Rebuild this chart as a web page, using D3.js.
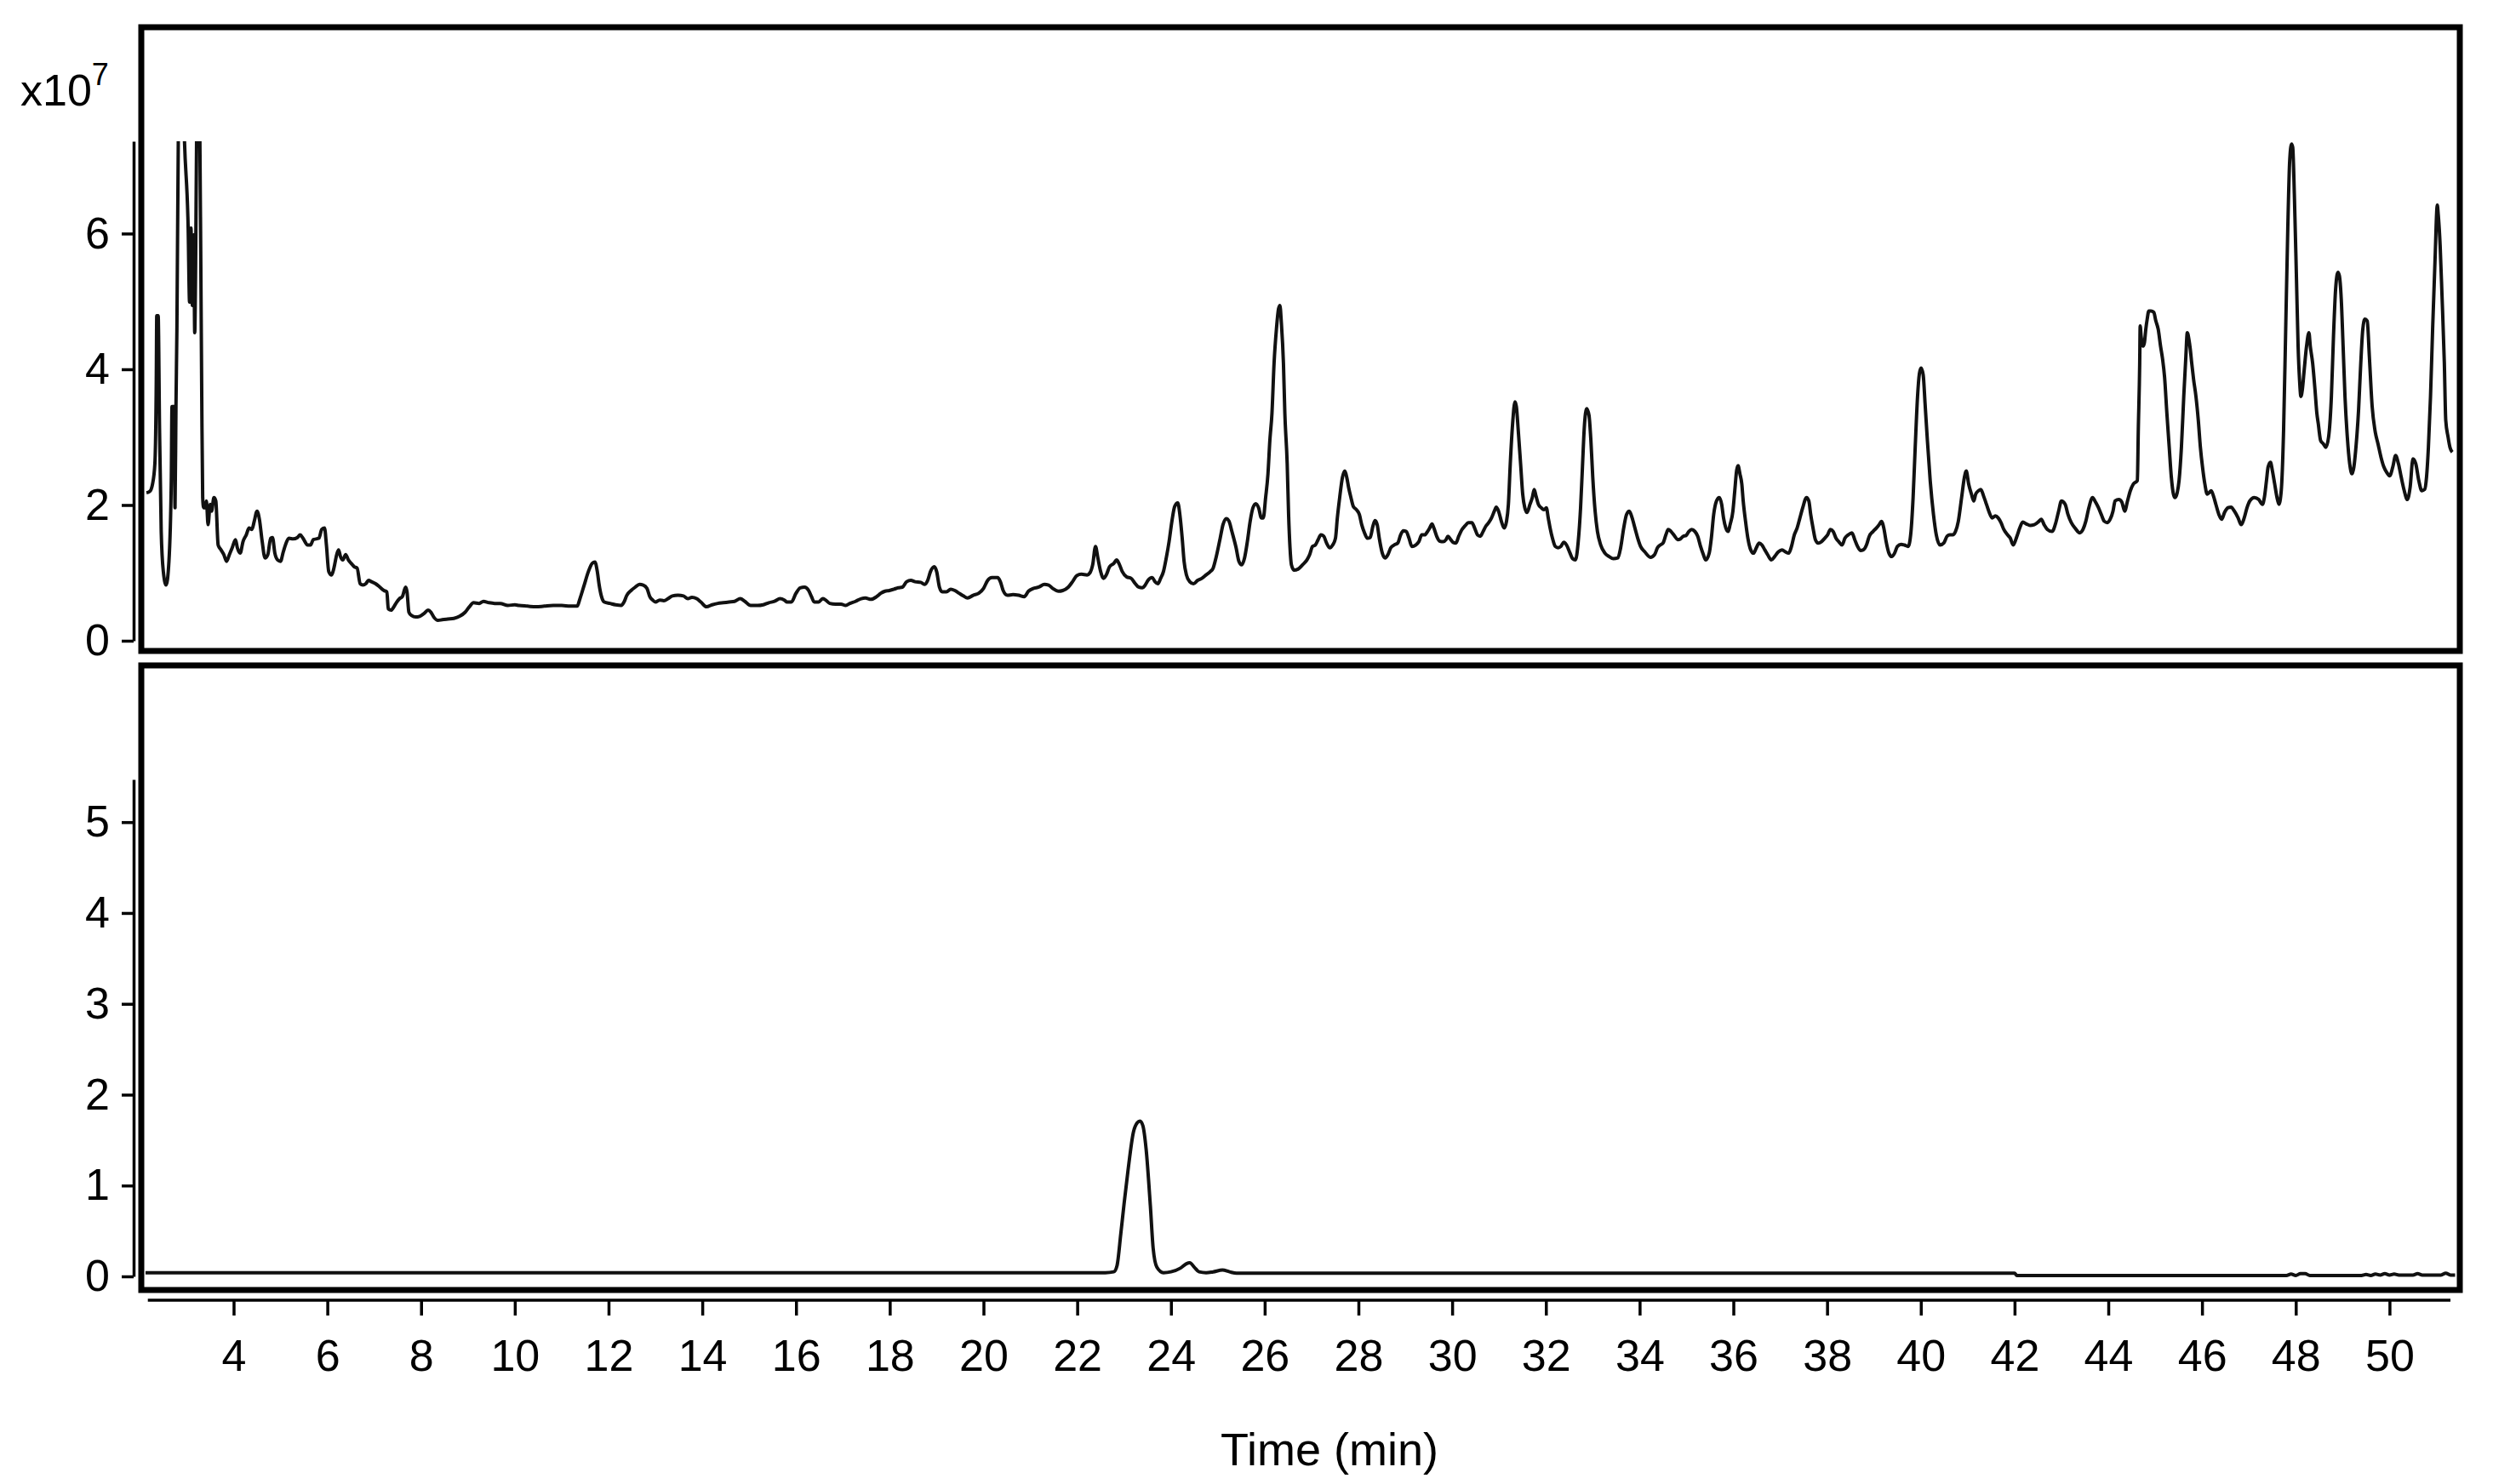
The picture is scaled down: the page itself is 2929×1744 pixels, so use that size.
<!DOCTYPE html>
<html>
<head>
<meta charset="utf-8">
<script src="https://cdn.jsdelivr.net/npm/d3@7"></script>
<style>
  body { margin: 0; background: #fff; }
  text { font-family: "Liberation Sans", Arial, sans-serif; fill: #000; }
</style>
</head>
<body>
<svg id="chart"></svg>
<script>
// Total ion chromatogram (upper trace), [time (min), intensity x10^7]
const topTrace = [
  [2.14,2.18],[2.21,2.20],[2.27,2.31],[2.32,2.61],[2.35,3.85],[2.36,4.79],[2.39,4.79],[2.42,3.10],
  [2.455,1.61],[2.50,1.02],[2.56,0.82],[2.62,1.17],[2.67,2.36],[2.685,3.45],[2.73,3.45],[2.75,1.96],
  [2.77,3.45],[2.79,4.59],[2.82,7.40],[2.86,8.50],[2.91,8.50],[2.95,7.40],[3.03,6.08],[3.06,4.99],
  [3.09,6.08],[3.12,4.94],[3.15,5.98],[3.17,4.54],[3.19,5.58],[3.21,7.40],[3.25,8.50],[3.28,7.40],
  [3.30,5.58],[3.32,3.60],[3.34,2.11],[3.36,1.96],[3.39,1.96],[3.42,2.06],[3.455,1.71],[3.50,2.01],
  [3.53,1.91],[3.58,2.11],[3.62,2.06],[3.67,1.41],[3.73,1.34],[3.79,1.27],[3.85,1.17],[3.91,1.27],
  [3.97,1.37],[4.04,1.49],[4.08,1.37],[4.14,1.29],[4.20,1.46],[4.27,1.56],[4.33,1.66],[4.39,1.64],
  [4.44,1.76],[4.50,1.91],[4.55,1.79],[4.61,1.46],[4.67,1.22],[4.73,1.27],[4.79,1.51],[4.83,1.52],
  [4.88,1.29],[4.94,1.19],[5.00,1.17],[5.06,1.31],[5.12,1.44],[5.18,1.51],[5.27,1.50],[5.36,1.52],
  [5.42,1.56],[5.48,1.51],[5.58,1.41],[5.64,1.41],[5.70,1.49],[5.82,1.51],[5.88,1.64],[5.94,1.66],
  [5.98,1.41],[6.03,1.02],[6.09,0.97],[6.14,1.07],[6.20,1.27],[6.24,1.34],[6.28,1.24],[6.33,1.19],
  [6.39,1.27],[6.45,1.19],[6.51,1.14],[6.575,1.09],[6.635,1.07],[6.70,0.84],[6.76,0.82],[6.82,0.84],
  [6.88,0.89],[6.94,0.87],[7.03,0.84],[7.12,0.79],[7.21,0.74],[7.27,0.72],[7.30,0.47],[7.36,0.45],
  [7.42,0.50],[7.48,0.57],[7.54,0.62],[7.60,0.65],[7.67,0.79],[7.70,0.72],[7.74,0.42],[7.80,0.37],
  [7.88,0.35],[7.97,0.36],[8.06,0.40],[8.15,0.45],[8.21,0.42],[8.27,0.35],[8.36,0.30],[8.45,0.31],
  [8.57,0.32],[8.70,0.33],[8.82,0.36],[8.94,0.42],[9.03,0.50],[9.12,0.56],[9.24,0.55],[9.33,0.58],
  [9.45,0.56],[9.57,0.55],[9.69,0.55],[9.85,0.52],[10.0,0.53],[10.09,0.52],[10.27,0.51],[10.45,0.50],
  [10.63,0.51],[10.82,0.52],[11.00,0.52],[11.18,0.51],[11.33,0.51],[11.39,0.62],[11.48,0.82],[11.57,1.02],
  [11.65,1.14],[11.71,1.16],[11.76,1.02],[11.80,0.82],[11.85,0.65],[11.91,0.57],[12.03,0.55],[12.15,0.53],
  [12.27,0.52],[12.33,0.57],[12.39,0.67],[12.48,0.74],[12.57,0.79],[12.66,0.83],[12.74,0.82],[12.82,0.77],
  [12.88,0.65],[12.94,0.60],[13.00,0.57],[13.09,0.60],[13.18,0.59],[13.27,0.62],[13.36,0.66],[13.48,0.67],
  [13.60,0.66],[13.69,0.62],[13.78,0.64],[13.88,0.62],[13.97,0.57],[14.09,0.50],[14.21,0.53],[14.33,0.55],
  [14.45,0.56],[14.57,0.57],[14.69,0.58],[14.81,0.62],[14.91,0.58],[15.03,0.52],[15.18,0.52],[15.30,0.53],
  [15.42,0.56],[15.54,0.58],[15.66,0.62],[15.75,0.60],[15.81,0.57],[15.90,0.57],[16.00,0.70],[16.09,0.78],
  [16.18,0.79],[16.27,0.74],[16.33,0.65],[16.39,0.57],[16.48,0.57],[16.57,0.62],[16.63,0.60],[16.72,0.55],
  [16.84,0.54],[16.96,0.54],[17.06,0.52],[17.15,0.55],[17.27,0.58],[17.39,0.62],[17.48,0.63],[17.60,0.61],
  [17.72,0.65],[17.81,0.70],[17.90,0.73],[17.99,0.74],[18.09,0.76],[18.18,0.78],[18.27,0.79],[18.36,0.87],
  [18.45,0.89],[18.54,0.87],[18.66,0.86],[18.75,0.83],[18.81,0.89],[18.87,1.02],[18.95,1.09],[19.00,1.02],
  [19.06,0.79],[19.12,0.72],[19.21,0.72],[19.30,0.76],[19.39,0.74],[19.48,0.70],[19.57,0.66],[19.66,0.63],
  [19.78,0.67],[19.90,0.70],[20.00,0.77],[20.09,0.89],[20.18,0.93],[20.30,0.93],[20.36,0.87],[20.42,0.74],
  [20.51,0.67],[20.63,0.68],[20.75,0.67],[20.87,0.65],[20.96,0.73],[21.06,0.77],[21.18,0.79],[21.30,0.83],
  [21.39,0.82],[21.48,0.77],[21.60,0.73],[21.69,0.74],[21.81,0.79],[21.90,0.87],[21.99,0.96],[22.09,0.98],
  [22.21,0.97],[22.27,1.00],[22.33,1.12],[22.39,1.39],[22.44,1.22],[22.50,1.02],[22.56,0.92],[22.62,0.97],
  [22.69,1.09],[22.78,1.14],[22.84,1.19],[22.89,1.14],[22.96,1.02],[23.055,0.94],[23.15,0.92],[23.24,0.84],
  [23.31,0.79],[23.39,0.78],[23.45,0.82],[23.51,0.89],[23.60,0.93],[23.66,0.87],[23.72,0.84],[23.78,0.92],
  [23.84,1.02],[23.90,1.22],[23.96,1.46],[24.02,1.76],[24.08,1.98],[24.145,2.03],[24.19,1.86],[24.24,1.51],
  [24.28,1.17],[24.33,0.97],[24.40,0.87],[24.48,0.84],[24.57,0.89],[24.66,0.92],[24.75,0.97],[24.84,1.02],
  [24.90,1.07],[24.96,1.22],[25.05,1.51],[25.11,1.71],[25.18,1.80],[25.24,1.76],[25.30,1.61],[25.39,1.37],
  [25.45,1.17],[25.51,1.12],[25.57,1.22],[25.63,1.46],[25.69,1.76],[25.75,1.96],[25.81,2.02],[25.87,1.96],
  [25.93,1.81],[25.97,1.81],[26.02,2.11],[26.07,2.46],[26.11,2.95],[26.155,3.35],[26.20,4.09],[26.25,4.59],
  [26.295,4.89],[26.325,4.94],[26.355,4.69],[26.40,4.09],[26.43,3.35],[26.48,2.61],[26.51,1.86],[26.54,1.37],
  [26.57,1.12],[26.63,1.04],[26.72,1.06],[26.81,1.12],[26.90,1.19],[26.96,1.27],[27.02,1.39],[27.08,1.41],
  [27.14,1.49],[27.20,1.56],[27.26,1.54],[27.32,1.44],[27.39,1.37],[27.45,1.41],[27.51,1.51],[27.55,1.81],
  [27.60,2.11],[27.66,2.41],[27.71,2.50],[27.75,2.41],[27.79,2.26],[27.84,2.11],[27.89,1.98],[27.96,1.93],
  [28.02,1.86],[28.07,1.71],[28.13,1.59],[28.19,1.51],[28.25,1.52],[28.31,1.69],[28.355,1.77],[28.40,1.71],
  [28.445,1.51],[28.51,1.29],[28.57,1.22],[28.63,1.27],[28.69,1.37],[28.76,1.41],[28.84,1.44],[28.90,1.56],
  [28.96,1.62],[29.02,1.61],[29.08,1.51],[29.14,1.39],[29.22,1.41],[29.29,1.46],[29.35,1.56],[29.415,1.56],
  [29.475,1.61],[29.52,1.66],[29.57,1.72],[29.61,1.66],[29.67,1.54],[29.73,1.47],[29.81,1.46],[29.87,1.49],
  [29.91,1.54],[29.97,1.49],[30.02,1.45],[30.08,1.44],[30.14,1.54],[30.21,1.64],[30.27,1.69],[30.35,1.74],
  [30.42,1.74],[30.48,1.66],[30.54,1.56],[30.60,1.54],[30.66,1.61],[30.72,1.69],[30.78,1.74],[30.84,1.81],
  [30.90,1.91],[30.94,1.97],[30.99,1.91],[31.05,1.76],[31.11,1.66],[31.16,1.76],[31.20,2.01],[31.24,2.61],
  [31.29,3.20],[31.34,3.52],[31.37,3.45],[31.41,3.10],[31.46,2.61],[31.505,2.16],[31.55,1.96],[31.60,1.89],
  [31.66,2.01],[31.71,2.11],[31.75,2.23],[31.79,2.13],[31.84,2.01],[31.90,1.96],[31.96,1.93],[32.01,1.96],
  [32.05,1.81],[32.09,1.66],[32.14,1.51],[32.20,1.39],[32.26,1.37],[32.32,1.39],[32.38,1.45],[32.44,1.41],
  [32.51,1.30],[32.57,1.21],[32.63,1.19],[32.69,1.46],[32.74,1.96],[32.78,2.56],[32.82,3.15],[32.87,3.42],
  [32.92,3.32],[32.96,2.95],[33.00,2.41],[33.05,1.91],[33.10,1.61],[33.17,1.41],[33.26,1.29],[33.35,1.24],
  [33.44,1.21],[33.535,1.22],[33.595,1.37],[33.66,1.66],[33.72,1.86],[33.78,1.91],[33.84,1.81],[33.90,1.66],
  [33.96,1.51],[34.02,1.39],[34.11,1.31],[34.23,1.23],[34.32,1.27],[34.38,1.37],[34.44,1.41],[34.50,1.44],
  [34.56,1.56],[34.61,1.64],[34.67,1.61],[34.75,1.54],[34.81,1.49],[34.87,1.50],[34.93,1.54],[34.99,1.55],
  [35.05,1.61],[35.11,1.64],[35.18,1.61],[35.24,1.54],[35.30,1.39],[35.36,1.27],[35.41,1.19],[35.485,1.29],
  [35.53,1.51],[35.58,1.86],[35.64,2.06],[35.70,2.11],[35.75,2.01],[35.79,1.81],[35.84,1.66],[35.89,1.61],
  [35.93,1.71],[35.99,1.91],[36.03,2.21],[36.07,2.51],[36.10,2.58],[36.14,2.46],[36.18,2.31],[36.21,2.06],
  [36.26,1.76],[36.31,1.51],[36.37,1.34],[36.43,1.29],[36.49,1.37],[36.55,1.44],[36.61,1.41],[36.67,1.34],
  [36.73,1.27],[36.81,1.19],[36.88,1.24],[36.96,1.31],[37.04,1.34],[37.11,1.31],[37.18,1.29],[37.24,1.39],
  [37.30,1.56],[37.36,1.66],[37.42,1.81],[37.48,1.96],[37.56,2.11],[37.61,2.06],[37.65,1.86],[37.70,1.66],
  [37.75,1.49],[37.81,1.44],[37.88,1.46],[37.95,1.51],[38.01,1.56],[38.07,1.64],[38.13,1.61],[38.19,1.51],
  [38.25,1.46],[38.32,1.41],[38.38,1.51],[38.45,1.56],[38.53,1.59],[38.59,1.49],[38.65,1.39],[38.71,1.33],
  [38.775,1.34],[38.84,1.41],[38.90,1.54],[38.98,1.61],[39.05,1.66],[39.11,1.71],[39.16,1.76],[39.21,1.66],
  [39.26,1.46],[39.32,1.29],[39.38,1.24],[39.44,1.29],[39.50,1.39],[39.58,1.42],[39.65,1.41],[39.73,1.39],
  [39.79,1.61],[39.835,2.11],[39.88,2.85],[39.93,3.60],[39.97,3.94],[40.005,4.02],[40.05,3.92],[40.09,3.50],
  [40.14,2.95],[40.20,2.36],[40.27,1.86],[40.33,1.56],[40.41,1.41],[40.49,1.44],[40.56,1.54],[40.62,1.56],
  [40.68,1.56],[40.74,1.61],[40.80,1.76],[40.87,2.11],[40.93,2.41],[40.97,2.50],[41.02,2.31],[41.08,2.16],
  [41.13,2.06],[41.17,2.16],[41.23,2.21],[41.28,2.23],[41.34,2.13],[41.40,2.01],[41.46,1.89],[41.52,1.81],
  [41.59,1.84],[41.65,1.81],[41.71,1.74],[41.77,1.64],[41.85,1.56],[41.91,1.51],[41.97,1.41],[42.05,1.54],
  [42.11,1.66],[42.175,1.75],[42.255,1.72],[42.33,1.70],[42.42,1.71],[42.52,1.76],[42.57,1.79],[42.63,1.71],
  [42.70,1.64],[42.80,1.61],[42.88,1.74],[42.94,1.91],[43.00,2.06],[43.08,2.01],[43.14,1.86],[43.21,1.74],
  [43.29,1.66],[43.39,1.59],[43.46,1.64],[43.52,1.76],[43.585,1.96],[43.665,2.11],[43.73,2.04],[43.79,1.96],
  [43.85,1.86],[43.915,1.76],[43.98,1.74],[44.04,1.79],[44.10,1.91],[44.145,2.06],[44.225,2.08],[44.29,2.04],
  [44.35,1.91],[44.41,2.06],[44.47,2.21],[44.535,2.31],[44.62,2.36],[44.64,3.10],[44.67,4.09],[44.68,4.64],
  [44.70,4.49],[44.74,4.34],[44.77,4.39],[44.80,4.59],[44.83,4.74],[44.865,4.86],[44.91,4.86],[44.97,4.84],
  [45.015,4.71],[45.065,4.59],[45.115,4.34],[45.16,4.14],[45.20,3.89],[45.25,3.35],[45.30,2.85],[45.345,2.41],
  [45.39,2.16],[45.425,2.11],[45.47,2.18],[45.51,2.36],[45.56,2.85],[45.61,3.60],[45.655,4.19],[45.685,4.54],
  [45.72,4.44],[45.75,4.29],[45.78,4.09],[45.82,3.85],[45.87,3.60],[45.92,3.25],[45.965,2.85],[46.01,2.56],
  [46.06,2.31],[46.11,2.16],[46.15,2.18],[46.195,2.21],[46.245,2.13],[46.295,2.01],[46.36,1.86],[46.42,1.79],
  [46.48,1.89],[46.555,1.96],[46.62,1.97],[46.69,1.91],[46.77,1.81],[46.835,1.71],[46.90,1.81],[46.96,1.96],
  [47.02,2.06],[47.115,2.11],[47.21,2.08],[47.29,2.01],[47.33,2.11],[47.375,2.36],[47.41,2.56],[47.46,2.63],
  [47.50,2.51],[47.55,2.31],[47.60,2.11],[47.64,2.01],[47.69,2.21],[47.74,3.10],[47.785,4.59],[47.83,6.08],
  [47.87,7.07],[47.91,7.32],[47.935,7.27],[47.97,6.57],[48.015,5.33],[48.05,4.34],[48.08,3.85],[48.11,3.60],
  [48.14,3.70],[48.18,3.99],[48.23,4.34],[48.28,4.54],[48.31,4.34],[48.36,4.09],[48.41,3.70],[48.45,3.35],
  [48.48,3.20],[48.53,2.95],[48.59,2.90],[48.64,2.85],[48.70,3.00],[48.76,3.60],[48.805,4.49],[48.85,5.18],
  [48.90,5.43],[48.93,5.38],[48.97,5.04],[49.01,4.34],[49.05,3.60],[49.10,3.00],[49.15,2.61],[49.20,2.46],
  [49.24,2.56],[49.29,2.90],[49.34,3.40],[49.38,3.99],[49.43,4.59],[49.475,4.74],[49.525,4.71],[49.57,4.19],
  [49.63,3.45],[49.69,3.10],[49.755,2.90],[49.82,2.70],[49.88,2.56],[49.94,2.48],[50.005,2.43],[50.07,2.56],
  [50.13,2.73],[50.19,2.61],[50.25,2.41],[50.315,2.21],[50.38,2.08],[50.44,2.26],[50.50,2.68],[50.56,2.61],
  [50.625,2.36],[50.69,2.21],[50.75,2.23],[50.79,2.41],[50.83,2.85],[50.875,3.60],[50.92,4.59],[50.97,5.58],
  [51.02,6.42],[51.04,6.28],[51.08,5.83],[51.12,5.09],[51.17,4.09],[51.20,3.25],[51.25,3.00],[51.29,2.85],
  [51.34,2.78]
];

// Extracted ion chromatogram (lower trace), [time (min), intensity x10^7]
const bottomTrace = [
  [2.12,0.04],[10.1,0.04],[16.0,0.04],[22.0,0.04],[22.6,0.04],[22.78,0.05],[22.85,0.12],[22.93,0.47],
  [23.0,0.80],[23.08,1.15],[23.2,1.59],[23.28,1.69],[23.34,1.71],[23.40,1.66],[23.47,1.40],[23.56,0.78],
  [23.62,0.31],[23.70,0.10],[23.84,0.04],[24.0,0.05],[24.2,0.09],[24.33,0.14],[24.4,0.15],[24.5,0.10],
  [24.6,0.05],[24.75,0.04],[24.9,0.05],[25.1,0.07],[25.25,0.05],[25.4,0.035],[30.0,0.035],[36.0,0.035],
  [42.0,0.035],[42.05,0.01],[47.8,0.01],[47.9,0.025],[48.0,0.01],[48.1,0.03],[48.2,0.03],[48.3,0.01],
  [49.4,0.01],[49.5,0.02],[49.6,0.01],[49.7,0.025],[49.8,0.015],[49.9,0.03],[50.0,0.015],[50.1,0.025],
  [50.2,0.015],[50.5,0.015],[50.6,0.03],[50.7,0.015],[51.1,0.015],[51.2,0.035],[51.3,0.015],[51.4,0.015]
];

const xTickValues = [4, 6, 8, 10, 12, 14, 16, 18, 20, 22, 24, 26, 28, 30, 32, 34, 36, 38, 40, 42, 44, 46, 48, 50];
const topYTicks = [0, 2, 4, 6];
const bottomYTicks = [0, 1, 2, 3, 4, 5];
const xAxisTitle = "Time (min)";

const width = 2929, height = 1744;

const svg = d3.select("#chart")
    .attr("width", width)
    .attr("height", height);

// Panel frames
const frameLeft = 166, frameRight = 2890;
const topFrame = { y0: 32, y1: 765 };
const bottomFrame = { y0: 782, y1: 1516 };

// Scales
const x = d3.scaleLinear().domain([2.03, 51.5]).range([frameLeft, frameRight]);
const yTop = d3.scaleLinear().domain([0, 7.36]).range([753, 166]);
const yBottom = d3.scaleLinear().domain([0, 5.47]).range([1500, 916]);

// Clip paths so clipped peaks stop at the top of the axis
const defs = svg.append("defs");
defs.append("clipPath").attr("id", "clip-top")
    .append("rect")
    .attr("x", frameLeft).attr("y", yTop(7.36))
    .attr("width", frameRight - frameLeft).attr("height", topFrame.y1 - yTop(7.36));
defs.append("clipPath").attr("id", "clip-bottom")
    .append("rect")
    .attr("x", frameLeft).attr("y", bottomFrame.y0)
    .attr("width", frameRight - frameLeft).attr("height", bottomFrame.y1 - bottomFrame.y0);

// Traces
const topLine = d3.line()
    .x(d => x(d[0]))
    .y(d => yTop(d[1]))
    .curve(d3.curveMonotoneX);

const bottomLine = d3.line()
    .x(d => x(d[0]))
    .y(d => yBottom(d[1]))
    .curve(d3.curveMonotoneX);

svg.append("path")
    .datum(topTrace)
    .attr("clip-path", "url(#clip-top)")
    .attr("fill", "none")
    .attr("stroke", "#111")
    .attr("stroke-width", 4)
    .attr("stroke-linejoin", "round")
    .attr("d", topLine);

svg.append("path")
    .datum(bottomTrace)
    .attr("clip-path", "url(#clip-bottom)")
    .attr("fill", "none")
    .attr("stroke", "#111")
    .attr("stroke-width", 4)
    .attr("stroke-linejoin", "round")
    .attr("d", bottomLine);

// Frames drawn on top
[topFrame, bottomFrame].forEach(f => {
    svg.append("rect")
        .attr("x", frameLeft)
        .attr("y", f.y0)
        .attr("width", frameRight - frameLeft)
        .attr("height", f.y1 - f.y0)
        .attr("fill", "none")
        .attr("stroke", "#000")
        .attr("stroke-width", 7);
});

// Y axes (detached, just left of the frame)
function styleAxis(g) {
    g.selectAll("path.domain").attr("stroke", "#000").attr("stroke-width", 3.5);
    g.selectAll(".tick line").attr("stroke", "#000").attr("stroke-width", 3.5);
    g.selectAll(".tick text")
        .style("font-family", "'Liberation Sans', Arial, sans-serif")
        .style("font-size", "52px")
        .attr("fill", "#000");
}

svg.append("g")
    .attr("transform", "translate(157,0)")
    .call(d3.axisLeft(yTop).tickValues(topYTicks).tickFormat(d3.format("d"))
        .tickSize(14).tickSizeOuter(0).tickPadding(14))
    .call(styleAxis);

svg.append("g")
    .attr("transform", "translate(157,0)")
    .call(d3.axisLeft(yBottom).tickValues(bottomYTicks).tickFormat(d3.format("d"))
        .tickSize(14).tickSizeOuter(0).tickPadding(14))
    .call(styleAxis);

// Exponent label for the top panel
const expLabel = svg.append("text")
    .attr("x", 24)
    .attr("y", 124)
    .style("font-size", "52px");
expLabel.append("tspan").text("x10");
expLabel.append("tspan")
    .attr("dy", -24)
    .style("font-size", "36px")
    .text("7");

// X axis (detached, below the lower frame)
const xAxisY = 1528;
const xAxisG = svg.append("g")
    .attr("transform", `translate(0,${xAxisY})`)
    .call(d3.axisBottom(x).tickValues(xTickValues).tickSize(18).tickSizeOuter(0).tickPadding(28))
    .call(styleAxis);
xAxisG.select("path.domain").remove();
xAxisG.append("line")
    .attr("x1", x(2.17)).attr("x2", x(51.3))
    .attr("stroke", "#000").attr("stroke-width", 3.5);

svg.append("text")
    .attr("x", 1562)
    .attr("y", 1722)
    .attr("text-anchor", "middle")
    .style("font-size", "54px")
    .text(xAxisTitle);
</script>
</body>
</html>
